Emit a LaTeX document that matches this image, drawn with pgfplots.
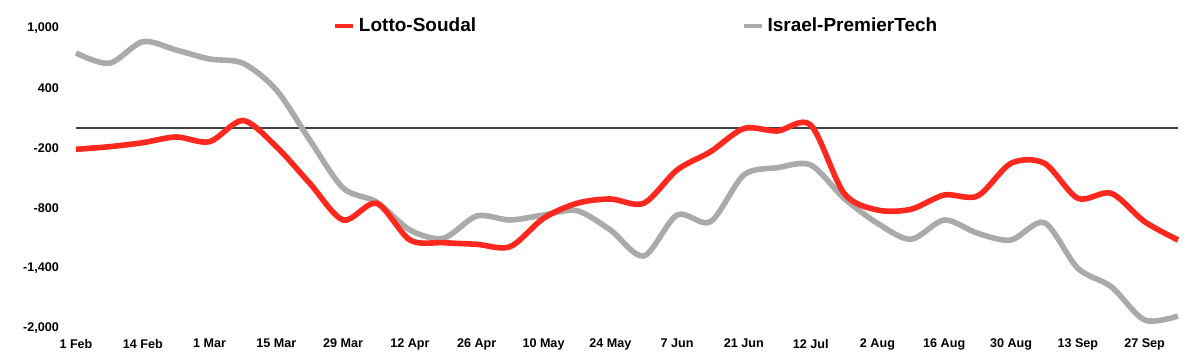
\documentclass[border=0pt]{standalone}
\usepackage{pgfplots}
\pgfplotsset{compat=1.18}
\usepackage{fontspec}
\setmainfont{Liberation Sans}
\definecolor{lred}{RGB}{255,40,30}
\definecolor{igray}{RGB}{170,170,170}
\definecolor{zline}{RGB}{64,64,64}
\begin{document}
\begin{tikzpicture}
\path[use as bounding box] (-38pt,-14.5pt) rectangle (562pt,164pt);
\begin{axis}[
  scale only axis,
  width=551pt, height=150pt,
  xmin=0, xmax=33, ymin=-2000, ymax=1000,
  clip=false,
  axis line style={draw=none},
  tick style={draw=none},
  major tick length=0pt,
  xtick={0,2,...,32},
  xticklabels={1 Feb,14 Feb,1 Mar,15 Mar,29 Mar,12 Apr,26 Apr,10 May,24 May,7 Jun,21 Jun,12 Jul,2 Aug,16 Aug,30 Aug,13 Sep,27 Sep},
  ytick={-2000,-1400,-800,-200,400,1000},
  yticklabels={{-2,000},{-1,400},{-800},{-200},{400},{1,000}},
  tick label style={font=\fontsize{6.3}{7}\selectfont\bfseries},
  yticklabel style={xshift=-5pt},
  xticklabel style={yshift=-2pt},
  legend columns=2,
  legend style={draw=none, fill=none, inner sep=0pt,
    at={(axis description cs:0.2332,1.007)}, anchor=west,
    font=\fontsize{9.5}{11}\selectfont\bfseries},
  legend image code/.code={\draw[#1, line width=1.8pt] (0pt,0pt) -- (9pt,0pt);},
]
\addlegendimage{lred}
\addlegendentry{\makebox[189.5pt][l]{Lotto-Soudal}}
\addlegendimage{igray}
\addlegendentry{Israel-PremierTech}

\addplot[zline, line width=1.4pt, forget plot] coordinates {(0,0) (33,0)};

\addplot[igray, line width=2.8pt, smooth, tension=0.5, forget plot] coordinates {
(0,750) (1,647) (2,863) (3,780) (4,690) (5,647) (6,380) (7,-120) (8,-600) (9,-740)
(10,-1020) (11,-1103) (12,-880) (13,-920) (14,-870) (15,-827) (16,-1020) (17,-1280)
(18,-870) (19,-937) (20,-470) (21,-397) (22,-370) (23,-703) (24,-953) (25,-1113)
(26,-920) (27,-1053) (28,-1120) (29,-947) (30,-1403) (31,-1587) (32,-1920) (33,-1880)};

\addplot[lred, line width=2.8pt, smooth, tension=0.5, forget plot] coordinates {
(0,-213) (1,-187) (2,-147) (3,-90) (4,-137) (5,75) (6,-187) (7,-553) (8,-920) (9,-753)
(10,-1120) (11,-1147) (12,-1163) (13,-1187) (14,-903) (15,-753) (16,-710) (17,-753)
(18,-420) (19,-237) (20,-5) (21,-30) (22,30) (23,-653) (24,-820) (25,-813)
(26,-670) (27,-680) (28,-353) (29,-353) (30,-703) (31,-653) (32,-937) (33,-1120)};
\end{axis}
\end{tikzpicture}
\end{document}
